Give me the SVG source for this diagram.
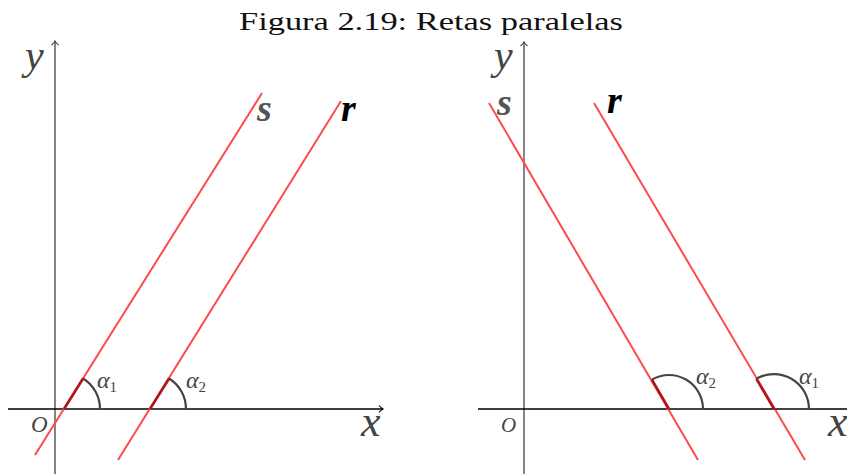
<svg xmlns="http://www.w3.org/2000/svg" width="847" height="474" viewBox="0 0 847 474">
<style>
.bg{fill:#fff}
.axis{stroke:#000;stroke-width:1.3;fill:none}
.yaxis{stroke:#666;stroke-width:1.6;fill:none}
.line{stroke:#ff4a4a;stroke-width:2;fill:none}
.dark{stroke:#b01515;stroke-width:2.6;fill:none}
.arc{stroke:#444;stroke-width:2.2;fill:none}
</style>
<defs>
<marker id="arr" markerWidth="10" markerHeight="10" refX="7" refY="5" orient="auto" markerUnits="userSpaceOnUse">
<path d="M3,1.5 Q5,4 7,5 Q5,6 3,8.5" fill="none" stroke="#000" stroke-width="1.1"/>
</marker>
<marker id="arrg" markerWidth="10" markerHeight="10" refX="7" refY="5" orient="auto" markerUnits="userSpaceOnUse">
<path d="M3,1.5 Q5,4 7,5 Q5,6 3,8.5" fill="none" stroke="#444" stroke-width="1.1"/>
</marker>
</defs>
<rect class="bg" width="847" height="474"/>
<g font-family="Liberation Serif, serif">
<text x="431" y="30" font-size="26" fill="#111" text-anchor="middle" textLength="384" lengthAdjust="spacingAndGlyphs">Figura 2.19: Retas paralelas</text>

<g id="left-axes">
<line class="yaxis" x1="55" y1="474" x2="55" y2="41" marker-end="url(#arrg)"/>
<line class="axis" x1="8" y1="409" x2="383" y2="409" marker-end="url(#arr)"/>
<text x="25" y="69" font-size="42" font-style="italic" fill="#444">y</text>
<text x="361" y="436" font-size="44" font-style="italic" fill="#444">x</text>
<text x="31" y="432" font-size="23" font-style="italic" fill="#444">O</text>
</g>
<g id="left-s">
<line class="line" x1="35" y1="455" x2="262" y2="93"/>
<path class="arc" d="M64,409 H100 A36,36 0 0 0 83.1,378.5"/>
<line class="dark" x1="64" y1="409" x2="83.1" y2="378.5"/>
<text x="97" y="388" font-size="24" font-style="italic" fill="#444">α<tspan font-size="15" font-style="normal" dy="4">1</tspan></text>
<text x="257" y="121" font-size="38" font-style="italic" font-weight="bold" fill="#555">s</text>
</g>
<g id="left-r">
<line class="line" x1="118" y1="460" x2="341" y2="101"/>
<path class="arc" d="M150,409 H186 A36,36 0 0 0 169.1,378.5"/>
<line class="dark" x1="150" y1="409" x2="169.1" y2="378.5"/>
<text x="186" y="388" font-size="24" font-style="italic" fill="#444">α<tspan font-size="15" font-style="normal" dy="4">2</tspan></text>
<text x="341" y="121" font-size="38" font-style="italic" font-weight="bold" fill="#000">r</text>
</g>

<g id="right-axes">
<line class="yaxis" x1="524" y1="474" x2="524" y2="42" marker-end="url(#arrg)"/>
<line class="axis" x1="478" y1="409" x2="847" y2="409"/>
<text x="494" y="69" font-size="42" font-style="italic" fill="#444">y</text>
<text x="828" y="436" font-size="44" font-style="italic" fill="#444">x</text>
<text x="501" y="432" font-size="21" font-style="italic" fill="#444">O</text>
</g>
<g id="right-s">
<line class="line" x1="489" y1="103" x2="698" y2="460"/>
<path class="arc" d="M669,409 H703 A34,34 0 0 0 651.9,379.6"/>
<line class="dark" x1="669" y1="409" x2="651.9" y2="379.6"/>
<text x="696" y="384" font-size="24" font-style="italic" fill="#444">α<tspan font-size="15" font-style="normal" dy="4">2</tspan></text>
<text x="497" y="115" font-size="38" font-style="italic" font-weight="bold" fill="#555">s</text>
</g>
<g id="right-r">
<line class="line" x1="594" y1="103" x2="805" y2="460"/>
<path class="arc" d="M774,409 H809 A35,35 0 0 0 756.4,378.8"/>
<line class="dark" x1="774" y1="409" x2="756.4" y2="378.8"/>
<text x="799" y="384" font-size="24" font-style="italic" fill="#444">α<tspan font-size="15" font-style="normal" dy="4">1</tspan></text>
<text x="607" y="113" font-size="38" font-style="italic" font-weight="bold" fill="#000">r</text>
</g>
</g>
</svg>
